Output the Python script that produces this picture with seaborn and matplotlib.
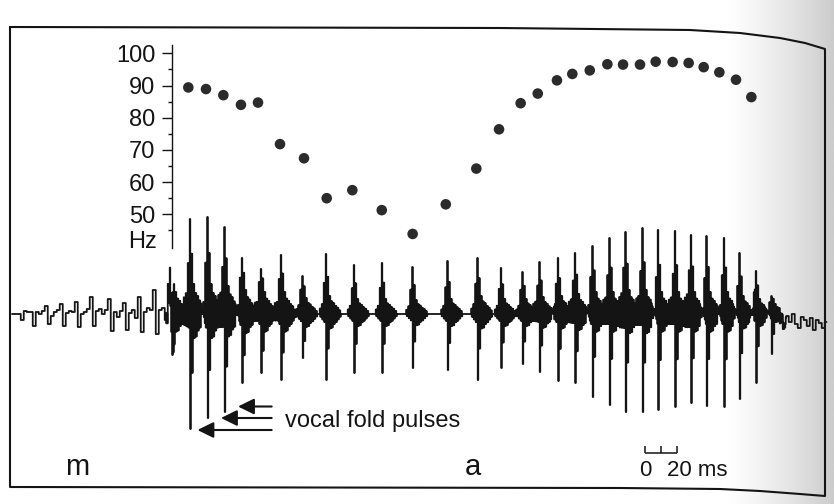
import numpy as np
import pandas as pd
import matplotlib
matplotlib.use("Agg")
import matplotlib.pyplot as plt
import seaborn as sns
from matplotlib.ticker import FixedLocator

# ---- fundamental frequency, one value per glottal period ----
f0_time_ms = [110.2, 121.25, 132.1, 143.1, 153.75, 167.5, 182.5, 196.7, 212.7, 231.1,
              250.4, 271.1, 290.2, 304.4, 317.9, 328.6, 340.6, 350.2, 361.1, 372.1,
              381.9, 392.5, 402.3, 412.9, 422.9, 432.3, 442.1, 452.5, 462.1]
f0_hz = [89.4, 88.9, 87.0, 84.0, 84.7, 71.8, 67.4, 55.0, 57.5, 51.3,
         43.9, 53.1, 64.2, 76.4, 84.5, 87.5, 91.6, 93.6, 94.7, 96.6,
         96.5, 96.5, 97.4, 97.3, 97.0, 95.7, 94.1, 91.8, 86.4]

# ---- vocal fold pulses of the vowel (time in ms, peak levels in arbitrary units) ----
pulse_time_ms = [100.0, 111.25, 122.1, 132.7, 143.6, 155.6, 168.1, 181.7, 196.1, 213.75,
                 231.4, 250.2, 272.3, 290.8, 305.6, 319.2, 329.6, 341.4, 351.9, 362.7,
                 373.3, 383.3, 394.2, 403.9, 414.4, 424.4, 434.2, 445.0, 454.6, 465.0,
                 474.8]
pulse_up = [29, 95, 97, 87, 56, 45, 59, 38, 60, 49,
            51, 47, 53, 56, 46, 42, 52, 56, 61, 68,
            76, 82, 86, 84, 83, 79, 78, 76, 61, 43,
            18]
pulse_down = [33, 115, 104, 98, 69, 59, 66, 44, 66, 59,
              59, 54, 56, 66, 54, 50, 58, 67, 69, 83,
              91, 98, 98, 96, 93, 89, 92, 93, 85, 69,
              40]
pulse_ring = [22, 30, 30, 28, 24, 22, 22, 16, 18, 15,
              15, 14, 15, 18, 15, 15, 17, 18, 20, 22,
              22, 24, 24, 22, 22, 22, 22, 22, 18, 15,
              10]

# ---- nasal murmur (m): level held over 1.875 ms steps, from 0 ms ----
murmur_level = [0, 0, 0, -6, 3, 2, 2, -12, 2, 0,
                3, 8, -10, -2, 2, 4, 10, -12, 1, 3,
                2, 12, -13, 0, 2, 5, 17, -12, 3, 5,
                0, 4, 15, -17, 2, -3, 3, 11, -16, 1,
                4, -4, 17, -18, 2, 6, 4, 24, -20, 4,
                6, -6, 18, -8]

# ---- decay after the vowel: level held over 1.875 ms steps, from 480 ms ----
tail_level = [-4, -12, -2, -8, 0, -10, -14, -3, -6, -12, -4, -16, -6, -9, -14, -8]

# F0 axis ticks
hz_ticks = [50, 60, 70, 80, 90, 100]
hz_minor = [45, 55, 65, 75, 85, 95]

# envelope of the formant ringing around each excitation (upper, lower),
# one entry per 1.25 ms block, relative to the ring level
PRE_TOP = [0.30, 0.55, 1.00]
PRE_BOT = [0.15, 0.30, 0.45]
POST_TOP = [0.90, 1.00, 0.70, 0.60, 0.45, 0.35, 0.20]
POST_BOT = [1.00, 0.80, 0.75, 0.55, 0.45, 0.30, 0.15]
# shoulder next to the main spike, relative to the spike's own peaks
SHOULDER_PRE = 0.22
SHOULDER_POST_UP = 0.35
SHOULDER_POST_DOWN = 0.25

DT = 0.3125       # ms per sample
BLOCK = 4         # samples per envelope block
STEP = 6          # samples per held murmur/tail level
TAIL_START = 480.0
T_END = 509.0     # ms
XLIM = (-7.5, 513.75)
YLIM_WAVE = (-190, 314)

t = np.arange(0.0, T_END + DT / 2, DT)
wave = np.zeros_like(t)
n = len(wave)

for k, v in enumerate(murmur_level):
    wave[k * STEP:(k + 1) * STEP] += v
i_tail = int(round(TAIL_START / DT))
for k, v in enumerate(tail_level):
    wave[i_tail + k * STEP:min(i_tail + (k + 1) * STEP, n)] += v


def add_block(start, top, bot):
    for s in range(BLOCK):
        j = start + s
        if 0 <= j < n:
            wave[j] += top if s % 2 == 0 else -bot


for tp, up, dn, rg in zip(pulse_time_ms, pulse_up, pulse_down, pulse_ring):
    i0 = int(round(tp / DT))
    for k, (a, b) in enumerate(zip(PRE_TOP, PRE_BOT)):
        extra = SHOULDER_PRE * up if k == len(PRE_TOP) - 1 else 0.0
        add_block(i0 - BLOCK * (len(PRE_TOP) - k), a * rg + extra, b * rg)
    wave[i0] += up
    wave[i0 + 1] -= dn
    for k, (a, b) in enumerate(zip(POST_TOP, POST_BOT)):
        eu = SHOULDER_POST_UP * up if k == 0 else 0.0
        ed = SHOULDER_POST_DOWN * dn if k == 0 else 0.0
        add_block(i0 + 2 + BLOCK * k, a * rg + eu, b * rg + ed)

wave_df = pd.DataFrame({"time": t, "amp": wave})
f0_df = pd.DataFrame({"time": f0_time_ms, "hz": f0_hz})

sns.set_theme(style="white")
plt.rcParams["font.family"] = ["Liberation Sans", "DejaVu Sans"]

INK = "#141414"
fig = plt.figure(figsize=(8.34, 5.04), dpi=100)
fig.patch.set_facecolor("white")

# background layer in pixel units: page shading and the box
ax_bg = fig.add_axes([0, 0, 1, 1])
ax_bg.set_xlim(0, 834)
ax_bg.set_ylim(504, 0)
ax_bg.axis("off")
gx = np.linspace(0, 834, 400)
shade = np.clip((gx - 725) / 109.0, 0, 1) ** 1.3 * 0.40
rgba = np.zeros((2, gx.size, 4))
rgba[..., :3] = 0.5
rgba[..., 3] = shade[None, :]
ax_bg.imshow(rgba, extent=(0, 834, 504, 0), aspect="auto", interpolation="bilinear", zorder=0)
frame_x = [10, 500, 690, 740, 780, 805, 825, 825, 800, 760, 720, 620, 10, 10]
frame_y = [27, 28, 30, 33, 38, 43, 49, 496, 494, 491, 489, 488, 487, 27]
ax_bg.plot(frame_x, frame_y, color=INK, lw=1.5, solid_joinstyle="round", zorder=2)

# speech waveform
ax_w = fig.add_axes([0, 0, 1, 1])
ax_w.patch.set_alpha(0)
sns.lineplot(data=wave_df, x="time", y="amp", ax=ax_w, color=INK, lw=1.3,
             drawstyle="steps-mid", estimator=None, sort=False)
ax_w.set_xlim(*XLIM)
ax_w.set_ylim(*YLIM_WAVE)
ax_w.axis("off")

# arrows marking the first pulses
arrow_tail = 162.3
for tip_t, tip_a in [(141.25, -92.5), (130.6, -104.0), (115.9, -116.0)]:
    ax_w.annotate("", xy=(tip_t, tip_a), xytext=(arrow_tail, tip_a),
                  arrowprops=dict(arrowstyle="-|>,head_length=0.65,head_width=0.32",
                                  mutation_scale=15, lw=1.5, color=INK,
                                  shrinkA=0, shrinkB=0))
ax_w.text(170.6, -113, "vocal fold pulses", fontsize=17, color=INK,
          ha="left", va="baseline")

# time scale bar
sb0 = 395.6
ax_w.plot([sb0, sb0 + 20], [-139, -139], color=INK, lw=1.1, solid_capstyle="butt")
for tk in (sb0, sb0 + 10, sb0 + 20):
    ax_w.plot([tk, tk], [-139, -132], color=INK, lw=1.1, solid_capstyle="butt")
ax_w.text(sb0, -162, "0", fontsize=16, color=INK, ha="center", va="baseline")
ax_w.text(409.2, -162, "20 ms", fontsize=16, color=INK, ha="left", va="baseline")

# segment labels
ax_w.text(40.6, -161, "m", fontsize=21, color=INK, ha="center", va="baseline")
ax_w.text(288.0, -161, "a", fontsize=21, color=INK, ha="center", va="baseline")

# F0 track
ax_f = fig.add_axes([0, 0.5077, 1, 0.4025])
ax_f.patch.set_alpha(0)
sns.scatterplot(data=f0_df, x="time", y="hz", ax=ax_f, color="#2b2b2b",
                s=58, edgecolor="none", linewidth=0)
ax_f.set_xlim(*XLIM)
ax_f.set_ylim(39.5, 102.5)
for side in ("top", "right", "bottom"):
    ax_f.spines[side].set_visible(False)
ax_f.spines["left"].set_position(("data", 100.0))
ax_f.spines["left"].set_color(INK)
ax_f.spines["left"].set_linewidth(1.0)
ax_f.set_xticks([])
ax_f.yaxis.set_major_locator(FixedLocator(hz_ticks))
ax_f.yaxis.set_minor_locator(FixedLocator(hz_minor))
ax_f.set_yticklabels([str(v) for v in hz_ticks])
ax_f.tick_params(axis="y", which="major", direction="out", length=7, width=1.0,
                 color=INK, labelsize=17, labelcolor=INK, pad=5, left=True)
ax_f.tick_params(axis="y", which="minor", direction="out", length=3.2, width=1.0,
                 color=INK, left=True)
ax_f.set_xlabel("")
ax_f.set_ylabel("")
ax_f.text(90.6, 41.4, "Hz", fontsize=17, color=INK, ha="right", va="center")

fig.savefig("out.png", dpi=100, facecolor="white")
